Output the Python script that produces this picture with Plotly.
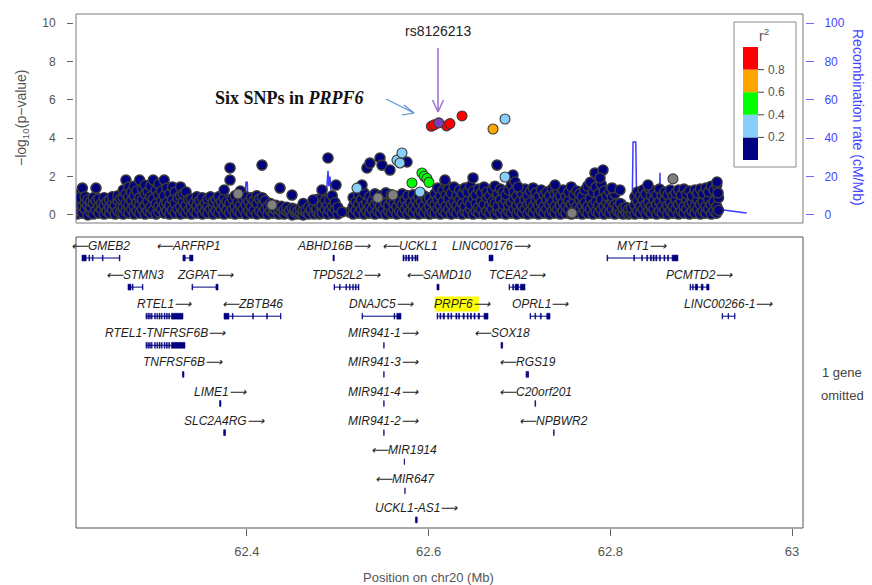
import plotly.graph_objects as go

# ---------------------------------------------------------------- data
X_RANGE = [62.212, 63.012]
X_TICKS = [62.4, 62.6, 62.8, 63.0]
X_TICK_TEXT = ["62.4", "62.6", "62.8", "63"]
LOGP_TICKS = [0, 2, 4, 6, 8, 10]
REC_TICKS = [0, 20, 40, 60, 80, 100]

LEAD_SNP = "rs8126213"
LEAD_POS = [62.6112]
LEAD_LOGP = [4.80]

RED_POS = [62.6030, 62.6062, 62.6198, 62.6235, 62.6368]
RED_LOGP = [4.62, 4.70, 4.64, 4.76, 5.16]
ORANGE_POS = [62.6709]
ORANGE_LOGP = [4.48]
GREEN_POS = [62.5817, 62.5927, 62.5952, 62.5982, 62.6004]
GREEN_LOGP = [1.67, 2.19, 2.02, 1.90, 1.70]
LBLUE_POS = [62.5212, 62.5652, 62.5685, 62.5707, 62.5905, 62.6841, 62.6841]
LBLUE_LOGP = [1.40, 2.86, 2.71, 3.23, 1.20, 1.98, 5.00]
GRAY_POS = [62.3903, 62.4277, 62.5443, 62.5608, 62.7578, 62.8689]
GRAY_LOGP = [1.10, 0.52, 0.89, 1.04, 0.10, 1.88]

NAVY_POS = [62.3815, 62.3815, 62.4167, 62.4365, 62.4497, 62.4728, 62.4827, 62.4893,
            62.4981, 62.5047, 62.5267, 62.5322, 62.5355, 62.5465, 62.5487, 62.5575,
            62.5762, 62.6180, 62.6489, 62.6753, 62.6929, 62.6951, 62.6984, 62.7391,
            62.7831, 62.7919, 62.7886, 62.8018, 62.8106, 62.8414, 62.9174, 62.9185]
NAVY_LOGP = [2.45, 1.82, 2.60, 1.40, 1.04, 0.78, 1.30, 2.97,
             1.56, 0.16, 1.56, 2.45, 2.70, 2.97, 2.60, 2.34,
             2.76, 1.82, 1.93, 2.60, 2.08, 1.72, 1.46, 1.56,
             2.19, 2.34, 1.93, 1.41, 1.30, 1.56, 1.72, 1.15]

# dense band of low-LD SNPs: (position, [-log10 p values at that position])
BAND_WEST = [
    (62.213, [0.05, 0.35, 0.75, 1.05]), (62.216, [0.2, 0.55, 0.9]), (62.219, [0.1, 0.45, 1.4]),
    (62.222, [0.3, 0.65, 0.95]), (62.225, [0.0, 0.5, 0.8]), (62.228, [0.15, 0.4, 0.7]),
    (62.231, [0.05, 0.6, 0.9]), (62.234, [0.25, 0.75, 1.4]), (62.237, [0.1, 0.45, 0.85]),
    (62.240, [0.3, 0.6]), (62.243, [0.05, 0.5, 0.9]), (62.246, [0.2, 0.7]),
    (62.249, [0.1, 0.4, 0.8]), (62.252, [0.3, 0.6, 0.95]), (62.255, [0.05, 0.5]),
    (62.258, [0.2, 0.75, 1.0]), (62.261, [0.1, 0.45, 0.85]), (62.264, [0.05, 0.4, 0.9, 1.3]),
    (62.267, [0.2, 0.6, 1.1, 1.82]), (62.270, [0.1, 0.5, 0.95, 1.45]), (62.273, [0.3, 0.75, 1.2]),
    (62.276, [0.05, 0.45, 1.0, 1.5]), (62.279, [0.2, 0.65, 1.25]), (62.282, [0.1, 0.55, 0.9, 1.82]),
    (62.285, [0.3, 0.8, 1.35]), (62.288, [0.05, 0.5, 1.1, 1.55]), (62.291, [0.2, 0.7, 1.2]),
    (62.294, [0.1, 0.4, 0.95, 1.5]), (62.297, [0.25, 0.85, 1.82]), (62.300, [0.05, 0.6, 1.3]),
    (62.303, [0.15, 0.45, 1.05, 1.6]), (62.306, [0.3, 0.75, 1.25]), (62.309, [0.1, 0.55, 1.0, 1.82]),
    (62.312, [0.2, 0.65, 1.4]), (62.315, [0.05, 0.5, 1.1]), (62.318, [0.25, 0.8, 1.46]),
    (62.321, [0.1, 0.6, 1.2]), (62.324, [0.3, 0.9]), (62.327, [0.05, 0.45, 1.0, 1.46]),
    (62.330, [0.2, 0.7, 1.1]), (62.333, [0.1, 0.5, 1.2]), (62.336, [0.25, 0.8]),
]
BAND_MID_WEST = [
    (62.339, [0.05, 0.45, 0.85]), (62.342, [0.2, 0.65]), (62.345, [0.1, 0.5, 0.95]),
    (62.348, [0.3, 0.75]), (62.351, [0.05, 0.4, 0.9]), (62.354, [0.2, 0.6]),
    (62.357, [0.1, 0.5, 0.85]), (62.360, [0.3, 0.95]), (62.363, [0.05, 0.45, 0.7]),
    (62.366, [0.2, 0.8]), (62.369, [0.1, 0.55, 0.95]), (62.372, [0.3, 0.7]),
    (62.375, [0.05, 0.5, 0.9, 1.3]), (62.378, [0.25, 0.7]), (62.381, [0.1, 0.6]),
    (62.384, [0.3, 0.85]), (62.387, [0.05, 0.45, 1.0]), (62.390, [0.2, 0.65]),
    (62.393, [0.1, 0.5, 1.25]), (62.396, [0.3, 0.8]), (62.399, [0.05, 0.55, 0.95]),
    (62.402, [0.2, 0.7]), (62.405, [0.1, 0.45, 0.9]), (62.408, [0.25, 0.75]),
    (62.411, [0.05, 0.6, 1.0]), (62.414, [0.2, 0.85]), (62.417, [0.1, 0.5, 0.9]),
    (62.420, [0.3, 0.75]), (62.423, [0.05, 0.45]), (62.426, [0.2, 0.6]),
    (62.429, [0.1, 0.35]), (62.432, [0.25, 0.5]), (62.435, [0.05, 0.3]),
    (62.438, [0.15, 0.45]), (62.441, [0.05, 0.3]), (62.444, [0.2, 0.4]),
    (62.447, [0.1, 0.25]), (62.450, [0.0, 0.35]), (62.453, [0.15, 0.3]),
    (62.456, [0.05, 0.2]), (62.459, [0.1, 0.35]), (62.462, [0.0, 0.25, 0.6]),
    (62.465, [0.15, 0.3]), (62.468, [0.05, 0.4]), (62.471, [0.2, 0.3]),
    (62.474, [0.05, 0.5]), (62.477, [0.15, 0.35, 0.8]), (62.480, [0.05, 0.55]),
    (62.483, [0.1, 0.5, 0.95]), (62.486, [0.3, 0.75]), (62.489, [0.05, 0.5]),
    (62.491, [0.25, 0.8]), (62.494, [0.1, 0.45, 1.0]), (62.497, [0.3, 0.65]),
    (62.500, [0.05, 0.4]), (62.513, [0.15]),
]
BAND_MID_EAST = [
    (62.517, [0.05, 0.45, 0.9]), (62.520, [0.25, 0.7]), (62.523, [0.1, 0.55, 1.05]),
    (62.526, [0.3, 0.8]), (62.529, [0.05, 0.5, 1.15]), (62.532, [0.2, 0.65]),
    (62.535, [0.1, 0.45, 0.95]), (62.538, [0.3, 0.75]), (62.541, [0.05, 0.55, 1.1]),
    (62.544, [0.2, 0.7]), (62.547, [0.1, 0.45, 1.0]), (62.550, [0.3, 0.8]),
    (62.553, [0.05, 0.6, 1.15]), (62.556, [0.2, 0.5]), (62.559, [0.1, 0.75, 1.05]),
    (62.562, [0.3, 0.6]), (62.565, [0.05, 0.45, 0.95]), (62.568, [0.2, 0.7]),
    (62.571, [0.1, 0.55, 1.1]), (62.574, [0.3, 0.8]), (62.577, [0.05, 0.5, 1.0]),
    (62.580, [0.2, 0.65]), (62.583, [0.1, 0.45, 1.05]), (62.586, [0.3, 0.75]),
    (62.589, [0.05, 0.55, 0.95]), (62.592, [0.2, 0.7]), (62.595, [0.1, 0.5, 1.0]),
    (62.598, [0.3, 0.8]), (62.601, [0.05, 0.45, 0.9]), (62.604, [0.15, 0.65]),
    (62.607, [0.1, 0.55, 1.1]), (62.610, [0.3, 0.8, 1.4]), (62.613, [0.05, 0.5, 1.0]),
    (62.616, [0.2, 0.7, 1.3]), (62.619, [0.1, 0.45, 1.05, 1.6]), (62.622, [0.3, 0.85, 1.35]),
    (62.625, [0.05, 0.55, 1.15]), (62.628, [0.2, 0.7, 1.45]), (62.631, [0.1, 0.5, 1.0]),
    (62.634, [0.3, 0.8, 1.3]), (62.637, [0.05, 0.6, 1.1]), (62.640, [0.2, 0.45, 1.4]),
    (62.643, [0.1, 0.75, 1.2]), (62.646, [0.3, 0.55, 1.5]), (62.649, [0.05, 0.85, 1.25]),
    (62.652, [0.2, 0.6, 1.05]), (62.655, [0.1, 0.4, 1.35]), (62.658, [0.3, 0.75, 1.15]),
    (62.661, [0.05, 0.55, 1.45]), (62.664, [0.2, 0.9, 1.2]), (62.667, [0.1, 0.5, 1.0]),
    (62.670, [0.3, 0.7, 1.3]), (62.673, [0.05, 0.6, 1.5]), (62.676, [0.2, 0.45, 1.1]),
    (62.679, [0.1, 0.8, 1.35]), (62.682, [0.3, 0.55, 1.2]), (62.685, [0.05, 0.75, 1.05]),
    (62.688, [0.2, 0.5, 1.3]), (62.691, [0.1, 0.65, 1.55]), (62.694, [0.3, 0.85, 1.2]),
    (62.697, [0.05, 0.5, 1.0]), (62.700, [0.2, 0.7, 1.3]), (62.703, [0.1, 0.45, 1.1]),
    (62.706, [0.3, 0.8, 1.35]), (62.709, [0.05, 0.55, 1.0]), (62.712, [0.2, 0.65, 1.25]),
    (62.715, [0.1, 0.45, 1.41]),
]
BAND_EAST = [
    (62.718, [0.3, 0.75, 1.15]), (62.721, [0.05, 0.5, 0.95]), (62.724, [0.2, 0.65, 1.3]),
    (62.727, [0.1, 0.45, 1.05]), (62.730, [0.3, 0.8, 1.2]), (62.733, [0.05, 0.55, 1.0]),
    (62.736, [0.2, 0.7, 1.35]), (62.739, [0.1, 0.45, 1.1]), (62.742, [0.3, 0.85, 1.25]),
    (62.745, [0.05, 0.5, 1.0]), (62.748, [0.2, 0.65, 1.3]), (62.751, [0.1, 0.45, 0.95]),
    (62.754, [0.3, 0.75, 1.2]), (62.757, [0.05, 0.55, 1.46]), (62.760, [0.2, 0.7, 1.05]),
    (62.763, [0.1, 0.45, 1.25]), (62.766, [0.3, 0.8, 1.1]), (62.769, [0.05, 0.5, 0.95]),
    (62.772, [0.2, 0.65, 1.3]), (62.775, [0.1, 0.45, 1.5]), (62.778, [0.3, 0.85, 1.7]),
    (62.781, [0.05, 0.55, 1.2]), (62.784, [0.2, 0.7, 1.45]), (62.787, [0.1, 0.5, 1.1]),
    (62.790, [0.3, 0.8, 1.6]), (62.793, [0.05, 0.45, 1.25]), (62.796, [0.2, 0.65, 1.0]),
    (62.799, [0.1, 0.5, 1.2]), (62.802, [0.3, 0.75, 0.95]), (62.805, [0.05, 0.55, 1.1]),
    (62.808, [0.2, 0.45]), (62.811, [0.1, 0.6]), (62.814, [0.05, 0.35]),
    (62.817, [0.15, 0.4]), (62.820, [0.05, 0.3]), (62.823, [0.1, 0.35]),
    (62.827, [0.05, 0.5, 0.95]), (62.830, [0.2, 0.7, 1.2]), (62.833, [0.1, 0.45, 1.0]),
    (62.836, [0.3, 0.8, 1.3]), (62.839, [0.05, 0.55, 1.1]), (62.842, [0.2, 0.65, 1.4]),
    (62.845, [0.1, 0.45, 1.0]), (62.848, [0.3, 0.8, 1.25]), (62.851, [0.05, 0.55, 1.05]),
    (62.854, [0.2, 0.7, 1.35]), (62.857, [0.1, 0.45, 1.0]), (62.860, [0.3, 0.8, 1.2]),
    (62.863, [0.05, 0.5, 1.05]), (62.866, [0.2, 0.65, 1.3]), (62.869, [0.1, 0.45, 1.0]),
    (62.872, [0.3, 0.8, 1.15]), (62.875, [0.05, 0.55, 1.3]), (62.878, [0.2, 0.7, 1.05]),
    (62.881, [0.1, 0.45, 1.35]), (62.884, [0.3, 0.8, 1.1]), (62.887, [0.05, 0.55, 1.25]),
    (62.890, [0.2, 0.65, 1.0]), (62.893, [0.1, 0.45, 1.3]), (62.896, [0.3, 0.8, 1.15]),
    (62.899, [0.05, 0.55, 1.35]), (62.902, [0.2, 0.7, 1.1]), (62.905, [0.1, 0.45, 1.4]),
    (62.908, [0.3, 0.8, 1.2]), (62.911, [0.05, 0.55, 1.5]), (62.914, [0.2, 0.7, 1.3]),
    (62.917, [0.1, 0.45, 1.55]), (62.919, [0.25, 0.9]),
]

REC_POS = [62.212, 62.260, 62.330, 62.3975, 62.3990, 62.4005, 62.4012, 62.4025, 62.450,
           62.4860, 62.4880, 62.4893, 62.4903, 62.4915, 62.4935, 62.4960, 62.5050, 62.560,
           62.5770, 62.5790, 62.5805, 62.5820, 62.5900, 62.650, 62.740, 62.8100, 62.8105,
           62.8160, 62.8165, 62.8240, 62.8250, 62.8280, 62.8290, 62.8540, 62.8546, 62.8552,
           62.9180, 62.9500]
REC_RATE = [0.8, 0.5, 0.7, 0.8, 17, 17, 6, 1.5, 0.6,
            1.0, 14, 23, 15, 20, 6, 1.0, 0.6, 0.8,
            1.0, 8, 13, 3, 1.0, 0.5, 0.6, 1.0, 7.5,
            7.5, 3, 3, 38, 38, 4, 2, 22, 2,
            3, 1]

LD_BREAKS = [0.2, 0.4, 0.6, 0.8]
LD_COLORS = ["#000080", "#87CEFA", "#00FF00", "#FFA500", "#FF0000"]
LEAD_COLOR = "#7B3FB5"
MISSING_COLOR = "#808080"

GENE_NAMES = ["GMEB2", "ARFRP1", "ABHD16B", "UCKL1", "LINC00176", "MYT1",
              "STMN3", "ZGPAT", "TPD52L2", "SAMD10", "TCEA2", "PCMTD2",
              "RTEL1", "ZBTB46", "DNAJC5", "PRPF6", "OPRL1", "LINC00266-1",
              "RTEL1-TNFRSF6B", "MIR941-1", "SOX18",
              "TNFRSF6B", "MIR941-3", "RGS19",
              "LIME1", "MIR941-4", "C20orf201",
              "SLC2A4RG", "MIR941-2", "NPBWR2",
              "MIR1914", "MIR647", "UCKL1-AS1"]
GENE_STRAND = ["-", "-", "+", "-", "+", "+",
               "-", "+", "+", "-", "+", "+",
               "+", "-", "+", "+", "+", "+",
               "+", "+", "-",
               "+", "+", "-",
               "+", "+", "-",
               "+", "+", "-",
               "-", "-", "+"]
GENE_ROW = [1, 1, 1, 1, 1, 1, 2, 2, 2, 2, 2, 2, 3, 3, 3, 3, 3, 3,
            4, 4, 4, 5, 5, 5, 6, 6, 6, 7, 7, 7, 8, 9, 10]
GENE_START = [62.2186, 62.3297, 62.4948, 62.5718, 62.6665, 62.7963,
              62.2692, 62.3396, 62.4959, 62.6092, 62.6885, 62.8876,
              62.2890, 62.3749, 62.5267, 62.6093, 62.7116, 62.9229,
              62.2890, 62.5506, 62.6797,
              62.3292, 62.5506, 62.7072,
              62.3700, 62.5506, 62.7170,
              62.3745, 62.5506, 62.7375,
              62.5731, 62.5738, 62.5855]
GENE_END = [62.2604, 62.3407, 62.4962, 62.5883, 62.6709, 62.8744,
            62.2857, 62.3683, 62.5234, 62.6115, 62.7061, 62.9086,
            62.3297, 62.4376, 62.5696, 62.6654, 62.7336, 62.9372,
            62.3319, 62.5511, 62.6815,
            62.3308, 62.5511, 62.7100,
            62.3715, 62.5511, 62.7178,
            62.3765, 62.5511, 62.7382,
            62.5735, 62.5742, 62.5875]
RTEL1_EXONS = [(62.2890, 62.2898), (62.2910, 62.2918), (62.2930, 62.2938), (62.2950, 62.2958),
               (62.2985, 62.2993), (62.3010, 62.3018), (62.3035, 62.3045), (62.3060, 62.3068),
               (62.3090, 62.3100), (62.3115, 62.3125), (62.3140, 62.3150)]
GENE_EXONS = [
    [(62.2186, 62.2232), (62.2262, 62.2270), (62.2300, 62.2308), (62.2410, 62.2418), (62.2596, 62.2604)],
    [(62.3297, 62.3322), (62.3370, 62.3407)],
    [(62.4948, 62.4962)],
    [(62.5718, 62.5730), (62.5748, 62.5758), (62.5775, 62.5790), (62.5815, 62.5828), (62.5850, 62.5862), (62.5872, 62.5883)],
    [(62.6665, 62.6709)],
    [(62.7963, 62.7971), (62.8258, 62.8266), (62.8345, 62.8353), (62.8400, 62.8410), (62.8440, 62.8452),
     (62.8470, 62.8482), (62.8500, 62.8512), (62.8540, 62.8550), (62.8590, 62.8600), (62.8630, 62.8640), (62.8680, 62.8744)],
    [(62.2692, 62.2725), (62.2740, 62.2748), (62.2850, 62.2857)],
    [(62.3396, 62.3404), (62.3660, 62.3683)],
    [(62.4959, 62.4965), (62.5020, 62.5027), (62.5090, 62.5098), (62.5130, 62.5137), (62.5165, 62.5172),
     (62.5195, 62.5203), (62.5225, 62.5234)],
    [(62.6092, 62.6115)],
    [(62.6885, 62.6891), (62.6925, 62.6935), (62.6952, 62.6990), (62.7010, 62.7061)],
    [(62.8876, 62.8883), (62.8905, 62.8912), (62.8935, 62.8960), (62.9000, 62.9020), (62.9060, 62.9086)],
    RTEL1_EXONS + [(62.3170, 62.3297)],
    [(62.3749, 62.3803), (62.3840, 62.3848), (62.4064, 62.4072), (62.4218, 62.4226), (62.4370, 62.4376)],
    [(62.5267, 62.5273), (62.5620, 62.5628), (62.5650, 62.5696)],
    [(62.6093, 62.6101), (62.6125, 62.6135), (62.6160, 62.6175), (62.6210, 62.6222), (62.6245, 62.6255),
     (62.6300, 62.6312), (62.6330, 62.6340), (62.6380, 62.6392), (62.6425, 62.6435), (62.6460, 62.6472),
     (62.6500, 62.6512), (62.6545, 62.6560), (62.6610, 62.6654)],
    [(62.7116, 62.7122), (62.7170, 62.7178), (62.7230, 62.7240), (62.7300, 62.7336)],
    [(62.9229, 62.9234), (62.9295, 62.9300), (62.9367, 62.9372)],
    RTEL1_EXONS + [(62.3170, 62.3319)],
    [(62.5506, 62.5511)],
    [(62.6797, 62.6815)],
    [(62.3292, 62.3308)],
    [(62.5506, 62.5511)],
    [(62.7072, 62.7080), (62.7085, 62.7092), (62.7095, 62.7100)],
    [(62.3700, 62.3715)],
    [(62.5506, 62.5511)],
    [(62.7170, 62.7178)],
    [(62.3745, 62.3765)],
    [(62.5506, 62.5511)],
    [(62.7375, 62.7382)],
    [(62.5731, 62.5735)],
    [(62.5738, 62.5742)],
    [(62.5855, 62.5875)],
]
HIGHLIGHT_GENE = "PRPF6"
OMITTED_NOTE = ["1 gene", "omitted"]

# ---------------------------------------------------------------- layout helpers
W, H = 872, 585
FONT = "Arial, 'Liberation Sans', sans-serif"
GRAY_TXT = "#555555"
BLUE_TXT = "#4646ff"
NAVY = "#000080"
ARROW_L = "\u27f5"
ARROW_R = "\u27f6"


def px(xp):
    return xp / W


def py(yp):
    return 1 - yp / H


X_DOM = [px(76), px(803)]
TOP_DOM = [py(223), py(14)]
GENE_DOM = [py(528), py(237)]
LOGP_RANGE = [-0.417, 10.47]
REC_RANGE = [v * 10 for v in LOGP_RANGE]
ROW_RANGE = [10.278, 0.278]


def flatten(band):
    xs, ys = [], []
    for pos, vals in band:
        for v in vals:
            xs.append(pos)
            ys.append(v)
    return xs, ys


band_x, band_y = [], []
for b in (BAND_WEST, BAND_MID_WEST, BAND_MID_EAST, BAND_EAST):
    bx, by = flatten(b)
    band_x += bx
    band_y += by

fig = go.Figure()

# recombination rate (base axis, right side, drawn under the points)
fig.add_trace(go.Scatter(x=REC_POS, y=REC_RATE, mode="lines", xaxis="x", yaxis="y",
                         line=dict(color="#3c3cff", width=1.5), hoverinfo="skip"))


def snp_trace(xs, ys, color, lw=1.1):
    return go.Scatter(x=xs, y=ys, mode="markers", xaxis="x", yaxis="y2",
                      marker=dict(size=10, color=color, line=dict(color="#3a3a3a", width=lw)),
                      hoverinfo="skip")


fig.add_trace(snp_trace(band_x + NAVY_POS, band_y + NAVY_LOGP, LD_COLORS[0], lw=1.6))
fig.add_trace(snp_trace(GRAY_POS, GRAY_LOGP, MISSING_COLOR))
fig.add_trace(snp_trace(LBLUE_POS, LBLUE_LOGP, LD_COLORS[1]))
fig.add_trace(snp_trace(GREEN_POS, GREEN_LOGP, LD_COLORS[2]))
fig.add_trace(snp_trace(ORANGE_POS, ORANGE_LOGP, LD_COLORS[3]))
fig.add_trace(snp_trace(RED_POS, RED_LOGP, LD_COLORS[4]))
fig.add_trace(snp_trace(LEAD_POS, LEAD_LOGP, LEAD_COLOR))

# gene panel: intron lines
gx, gy = [], []
for s, e, r in zip(GENE_START, GENE_END, GENE_ROW):
    gx += [s, e, None]
    gy += [r, r, None]
fig.add_trace(go.Scatter(x=gx, y=gy, mode="lines", xaxis="x2", yaxis="y3",
                         line=dict(color=NAVY, width=1), hoverinfo="skip"))

shapes = []
annotations = []

for name, strand, s, e, r, exons in zip(GENE_NAMES, GENE_STRAND, GENE_START, GENE_END,
                                        GENE_ROW, GENE_EXONS):
    for (a, b) in exons:
        shapes.append(dict(type="rect", xref="x2", yref="y3", x0=a, x1=b, y0=r - 0.1, y1=r + 0.1,
                           fillcolor=NAVY, line=dict(color=NAVY, width=0.6)))
    label = (ARROW_L + name) if strand == "-" else (name + ARROW_R)
    mid = (s + e) / 2
    if name == HIGHLIGHT_GENE:
        shapes.append(dict(type="rect", xref="x2", yref="y3", x0=62.6068, x1=62.6552,
                           y0=r - 0.41 - 0.27, y1=r - 0.41 + 0.25, fillcolor="#FFFF00",
                           line=dict(width=0), layer="below"))
    annotations.append(dict(x=mid, y=r - 0.41, xref="x2", yref="y3", text="<i>" + label + "</i>",
                            showarrow=False, xanchor="center", yanchor="middle",
                            font=dict(family=FONT, size=12, color="#1e1e1e")))

# panel frames
shapes.append(dict(type="rect", xref="x domain", yref="y domain", x0=0, x1=1, y0=0, y1=1,
                   line=dict(color="#7a7a7a", width=1)))
shapes.append(dict(type="rect", xref="x2 domain", yref="y3 domain", x0=0, x1=1, y0=0, y1=1,
                   line=dict(color="#555555", width=1)))

# r^2 legend
LEG_TOP, LEG_BOT = 47, 160
LEG_X0, LEG_X1 = 743, 758


def leg_y(r2):
    return LEG_BOT - (LEG_BOT - LEG_TOP) * r2


shapes.append(dict(type="rect", xref="paper", yref="paper", x0=px(734), x1=px(796),
                   y0=py(167), y1=py(22), fillcolor="white", line=dict(color="#8a8a8a", width=1)))
edges = [0.0] + LD_BREAKS + [1.0]
for i, col in enumerate(LD_COLORS):
    shapes.append(dict(type="rect", xref="paper", yref="paper", x0=px(LEG_X0), x1=px(LEG_X1),
                       y0=py(leg_y(edges[i])), y1=py(leg_y(edges[i + 1])), fillcolor=col,
                       line=dict(width=0)))
for b in LD_BREAKS:
    shapes.append(dict(type="line", xref="paper", yref="paper", x0=px(LEG_X1), x1=px(764),
                       y0=py(leg_y(b)), y1=py(leg_y(b)), line=dict(color="#444444", width=1)))
    annotations.append(dict(x=px(766), y=py(leg_y(b)), xref="paper", yref="paper", text=f"{b:.1f}",
                            showarrow=False, xanchor="left", yanchor="middle",
                            font=dict(family=FONT, size=12, color=GRAY_TXT)))
annotations.append(dict(x=px(764), y=py(35), xref="paper", yref="paper", text="r<sup>2</sup>",
                        showarrow=False, xanchor="center", yanchor="middle",
                        font=dict(family=FONT, size=14, color=GRAY_TXT)))

# lead SNP label and arrows
annotations.append(dict(x=px(438), y=py(31), xref="paper", yref="paper", text=LEAD_SNP,
                        showarrow=False, xanchor="center", yanchor="middle",
                        font=dict(family=FONT, size=14, color="#222222")))
PURPLE = "#9b6fd0"
for (x0, y0, x1, y1) in [(438, 48, 438, 112), (438, 112, 432.5, 100), (438, 112, 443.5, 100)]:
    shapes.append(dict(type="line", xref="paper", yref="paper", x0=px(x0), y0=py(y0),
                       x1=px(x1), y1=py(y1), line=dict(color=PURPLE, width=1.5)))
annotations.append(dict(x=px(289), y=py(98), xref="paper", yref="paper",
                        text="<b>Six SNPs in <i>PRPF6</i></b>", showarrow=False,
                        xanchor="center", yanchor="middle",
                        font=dict(family="'Liberation Serif', 'Times New Roman', serif", size=18,
                                  color="#111111")))
ABLUE = "#5b8fd0"
for (x0, y0, x1, y1) in [(386, 99, 414, 113), (414, 113, 402, 115), (414, 113, 404, 105)]:
    shapes.append(dict(type="line", xref="paper", yref="paper", x0=px(x0), y0=py(y0),
                       x1=px(x1), y1=py(y1), line=dict(color=ABLUE, width=1.2)))

# axis titles
annotations.append(dict(x=px(22), y=py(118), xref="paper", yref="paper",
                        text="\u2212log<sub>10</sub>(p\u2212value)", textangle=-90, showarrow=False,
                        xanchor="center", yanchor="middle",
                        font=dict(family=FONT, size=14, color=GRAY_TXT)))
annotations.append(dict(x=px(858), y=py(117), xref="paper", yref="paper",
                        text="Recombination rate (cM/Mb)", textangle=90, showarrow=False,
                        xanchor="center", yanchor="middle",
                        font=dict(family=FONT, size=14, color=BLUE_TXT)))
annotations.append(dict(x=px(428), y=py(577), xref="paper", yref="paper",
                        text="Position on chr20 (Mb)", showarrow=False,
                        xanchor="center", yanchor="middle",
                        font=dict(family=FONT, size=13, color=GRAY_TXT)))
for txt, yy in zip(OMITTED_NOTE, [372, 395]):
    annotations.append(dict(x=px(842), y=py(yy), xref="paper", yref="paper", text=txt,
                            showarrow=False, xanchor="center", yanchor="middle",
                            font=dict(family=FONT, size=13, color="#444444")))

fig.update_layout(
    width=W, height=H, margin=dict(l=0, r=0, t=0, b=0),
    paper_bgcolor="white", plot_bgcolor="white", showlegend=False,
    xaxis=dict(domain=X_DOM, range=X_RANGE, anchor="y", showticklabels=False, ticks="",
               showgrid=False, zeroline=False, showline=False),
    yaxis=dict(domain=TOP_DOM, range=REC_RANGE, side="right", anchor="free", position=px(805),
               tickvals=REC_TICKS, ticks="outside", ticklen=8, tickcolor="#6a6aff", tickwidth=1,
               tickfont=dict(family=FONT, size=12, color=BLUE_TXT), ticklabelstandoff=8,
               showgrid=False, zeroline=False, showline=False),
    yaxis2=dict(domain=TOP_DOM, range=LOGP_RANGE, overlaying="y", side="left", anchor="free",
                position=px(73), tickvals=LOGP_TICKS, ticks="outside", ticklen=6,
                tickcolor="#666666", tickfont=dict(family=FONT, size=12, color=GRAY_TXT),
                ticklabelstandoff=9, showgrid=False, zeroline=False, showline=False),
    xaxis2=dict(domain=X_DOM, range=X_RANGE, anchor="y3", tickvals=X_TICKS, ticktext=X_TICK_TEXT,
                ticks="outside", ticklen=7, tickcolor="#666666",
                tickfont=dict(family=FONT, size=13, color=GRAY_TXT), ticklabelstandoff=4,
                showgrid=False, zeroline=False, showline=False),
    yaxis3=dict(domain=GENE_DOM, range=ROW_RANGE, anchor="x2", visible=False,
                showgrid=False, zeroline=False),
    shapes=shapes, annotations=annotations,
)

fig.write_html("out.html", config={"displayModeBar": False},
               post_script="document.body.style.margin='0px';")
